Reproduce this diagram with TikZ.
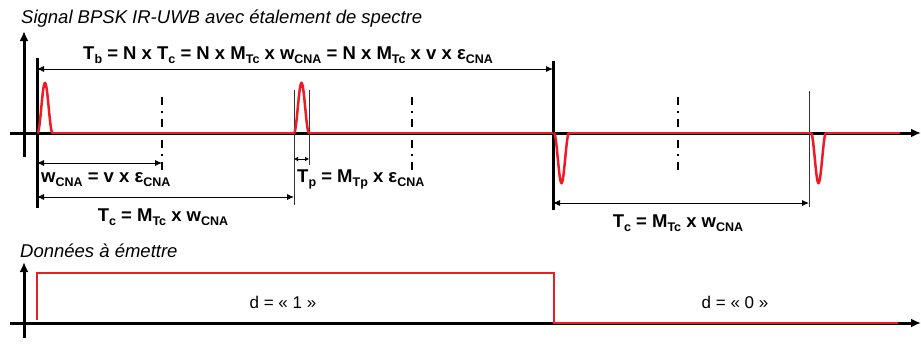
\documentclass[tikz,border=0pt]{standalone}
\usepackage{fontspec}
\setmainfont{Liberation Sans}
\usepackage{xcolor}
\usetikzlibrary{arrows.meta,positioning,calc}
\definecolor{pulsered}{RGB}{237,28,36}
\newcommand{\sbs}[1]{\raisebox{-0.45ex}{\fontsize{12.5}{13}\selectfont #1}}

\begin{document}
\begin{tikzpicture}[x=1pt,y=-1pt,
    axis/.style={line width=3pt,-{Latex[length=10pt,width=9pt]}},
    sig/.style={pulsered,line width=2.5pt},
    bar/.style={line width=3pt},
    guide/.style={line width=0.9pt,black!80},
    dashdot/.style={line width=1.6pt,dash pattern=on 8pt off 6pt on 1.5pt off 6pt},
    dim/.style={line width=0.9pt,{Latex[length=7pt,width=6pt]}-{Latex[length=7pt,width=6pt]}},
    eq/.style={font=\fontsize{18.5}{20}\selectfont\bfseries,inner sep=0pt},
    titletext/.style={font=\fontsize{18.5}{20}\selectfont\itshape,inner sep=0pt,anchor=base west},
    val/.style={font=\fontsize{17}{19}\selectfont,inner sep=0pt,anchor=base}]

    \useasboundingbox (0,0) rectangle (921,349);

    % titles
    \node[titletext] (ttlsig) at (21,23) {Signal BPSK IR-UWB avec étalement de spectre};
    \node[titletext] (ttldat) at (20,257) {Données à émettre};

    % axes of the signal
    \coordinate (sx0) at (10,133);
    \coordinate (sx1) at (921,133);
    \coordinate (sy0) at (24,157);
    \coordinate (sy1) at (24,31);
    \draw[axis] (sx0) -- (sx1);
    \draw[axis] (sy0) -- (sy1);

    % bit boundaries and chip marks
    \draw[bar] (37,58) -- (37,208);
    \draw[bar] (553,61) -- (553,210);
    \draw[guide] (294,90) -- (294,205);
    \draw[guide] (309,90) -- (309,165);
    \draw[guide] (809,91) -- (809,207);
    \foreach \xc in {162,412,678}
      \draw[dashdot] (\xc,97) -- (\xc,172);

    % red signal
    \draw[sig] (52,133) -- (294,133);
    \draw[sig] (309,133) -- (553,133);
    \draw[sig] (569,133) -- (811,133);
    \draw[sig] (826,133) -- (900,133);
    \foreach \c/\s in {45/1,301.5/1,561.5/-1,818.5/-1}
      \draw[sig] plot[domain=\c-7.5:\c+7.5,samples=41,smooth]
        (\x,{133-\s*50*cos(90*(\x-\c)/7.5)^2});

    % dimension arrows
    \coordinate (tbL) at (37,69);
    \coordinate (tbR) at (553,69);
    \coordinate (wL) at (37,163);
    \coordinate (wR) at (162,163);
    \coordinate (tpL) at (294,159);
    \coordinate (tpR) at (309,159);
    \coordinate (tcL) at (37,197);
    \coordinate (tcR) at (294,197);
    \coordinate (tc2L) at (553,203);
    \coordinate (tc2R) at (809,203);
    \draw[dim] (tbL) -- (tbR);
    \draw[dim] (wL) -- (wR);
    \draw[dim,{Latex[length=4pt,width=5pt]}-{Latex[length=4pt,width=5pt]}] (tpL) -- (tpR);
    \draw[dim] (tcL) -- (tcR);
    \draw[dim] (tc2L) -- (tc2R);

    % labels
    \node[eq,anchor=base west] (tb) at (83,59)
      {T\sbs{b} = N x T\sbs{c} = N x M\sbs{Tc} x w\sbs{CNA} = N x M\sbs{Tc} x v x ε\sbs{CNA}};
    \node[eq,anchor=base west] (w) at (41,182) {w\sbs{CNA} = v x ε\sbs{CNA}};
    \node[eq,anchor=base west] (tp) at (297,182) {T\sbs{p} = M\sbs{Tp} x ε\sbs{CNA}};
    \node[eq,anchor=base] (tc) at (163,221) {T\sbs{c} = M\sbs{Tc} x w\sbs{CNA}};
    \node[eq,anchor=base] (tc2) at (678,227) {T\sbs{c} = M\sbs{Tc} x w\sbs{CNA}};

    % data axes
    \coordinate (dx0) at (10,323);
    \coordinate (dx1) at (921,323);
    \coordinate (dy0) at (24,338);
    \coordinate (dy1) at (24,262);
    \draw[axis] (dx0) -- (dx1);
    \draw[axis] (dy0) -- (dy1);

    % data bits
    \draw[sig] (37,320) -- (37,273) -- (554,273) -- (554,323) -- (898,323);
    \node[val] (d1) at (283,308) {d = « 1 »};
    \node[val] (d0) at (735,308) {d = « 0 »};
  \end{tikzpicture}
\end{document}
